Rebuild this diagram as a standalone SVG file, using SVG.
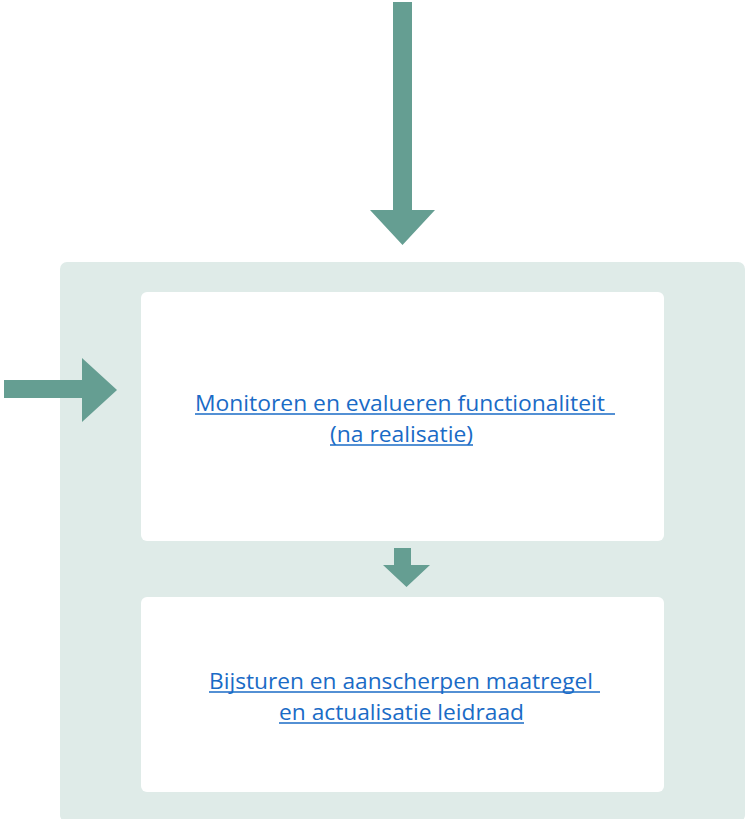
<svg xmlns="http://www.w3.org/2000/svg" width="745" height="819" viewBox="0 0 745 819">
  <style>
    .arrow { fill: #659E92; }
    .panel { fill: #DFEBE8; }
    .card { fill: #FFFFFF; }
    .link { font-family: "Open Sans", "Noto Sans", sans-serif; font-size: 22px; fill: #1A6BC6; text-anchor: middle; }
    .ul { stroke: #1A6BC6; stroke-width: 1.3; }
  </style>
  <rect width="745" height="819" fill="#FFFFFF"/>

  <!-- container panel -->
  <g id="panel">
    <rect class="panel" x="60" y="262" width="685" height="560" rx="7"/>
  </g>

  <g id="connectors">
    <!-- incoming arrow from above -->
    <polygon class="arrow" points="393,2 412,2 412,210 435,210 402.5,245 370,210 393,210"/>
    <!-- incoming arrow from left -->
    <polygon class="arrow" points="4,380 82,380 82,358 117,390 82,422 82,398 4,398"/>
    <!-- step arrow between cards -->
    <polygon class="arrow" points="394,548 411,548 411,565 430,565 406.5,587 383,565 394,565"/>
  </g>

  <g id="node-monitoren">
    <rect class="card" x="141" y="292" width="523" height="249" rx="6"/>
    <text class="link" x="400" y="411" textLength="410" lengthAdjust="spacingAndGlyphs">Monitoren en evalueren functionaliteit</text>
    <line class="ul" x1="195" y1="414" x2="615" y2="414"/>
    <text class="link" x="401.5" y="442" textLength="143" lengthAdjust="spacingAndGlyphs">(na realisatie)</text>
    <line class="ul" x1="330" y1="445" x2="473" y2="445"/>
  </g>

  <g id="node-bijsturen">
    <rect class="card" x="141" y="597" width="523" height="195" rx="6"/>
    <text class="link" x="401" y="689" textLength="384" lengthAdjust="spacingAndGlyphs">Bijsturen en aanscherpen maatregel</text>
    <line class="ul" x1="209" y1="692" x2="600" y2="692"/>
    <text class="link" x="401.5" y="720" textLength="245" lengthAdjust="spacingAndGlyphs">en actualisatie leidraad</text>
    <line class="ul" x1="279" y1="723" x2="524" y2="723"/>
  </g>
</svg>
